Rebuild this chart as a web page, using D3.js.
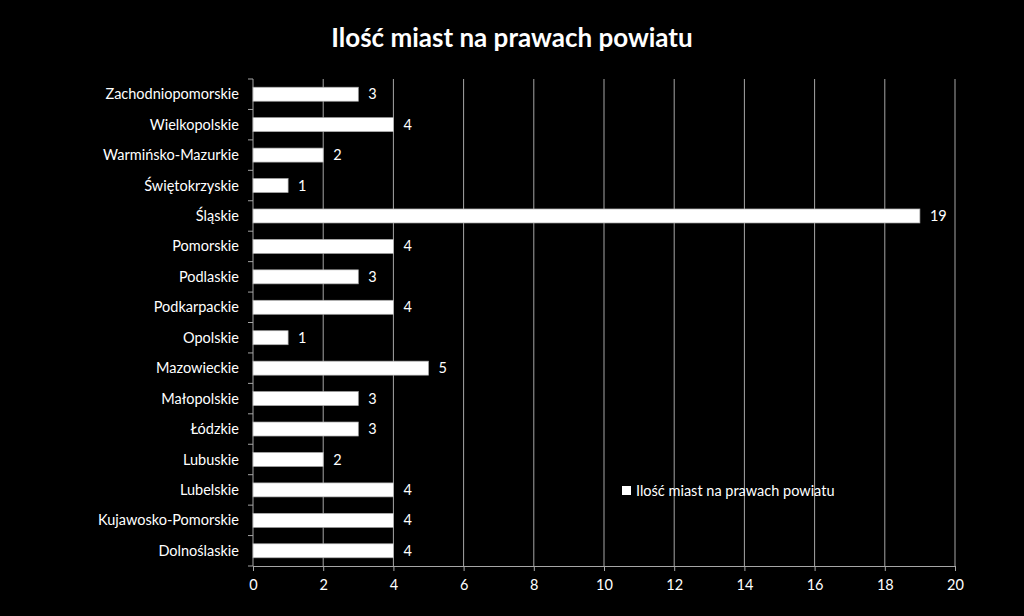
<!DOCTYPE html>
<html><head><meta charset="utf-8">
<script src="https://cdn.jsdelivr.net/npm/d3@7"></script>
<style>html,body{margin:0;padding:0;background:#000;}svg{display:block;}</style>
</head><body>
<script>
const categories = ["Zachodniopomorskie","Wielkopolskie","Warmińsko-Mazurkie","Świętokrzyskie","Śląskie","Pomorskie","Podlaskie","Podkarpackie","Opolskie","Mazowieckie","Małopolskie","Łódzkie","Lubuskie","Lubelskie","Kujawosko-Pomorskie","Dolnoślaskie"];
const values = [3,4,2,1,19,4,3,4,1,5,3,3,2,4,4,4];
const xTicks = [0,2,4,6,8,10,12,14,16,18,20];
const title = "Ilość miast na prawach powiatu";
const seriesName = "Ilość miast na prawach powiatu";

(function(){
const W=1024,H=616;
const font = "Lato, 'Open Sans', sans-serif";
const fs = "14.5px";
const svg = d3.select("body").append("svg").attr("width",W).attr("height",H).style("background","#000");
const pL=253,pR=955,pT=79,pB=566;
const x = d3.scaleLinear().domain([0,20]).range([pL,pR]);
const y = d3.scaleBand().domain(categories).range([pT,pB]).paddingInner(0.54).paddingOuter(0.27);
const grid="#a6a6a6";

svg.append("text").attr("x",512).attr("y",47).attr("text-anchor","middle").attr("fill","#fff")
  .style("font-family",font).style("font-weight","bold").style("font-size","26px").text(title);

svg.append("g").selectAll("line").data(xTicks.slice(1)).join("line")
  .attr("x1",d=>x(d)).attr("x2",d=>x(d)).attr("y1",pT).attr("y2",pB)
  .attr("stroke",grid).attr("stroke-width",1);

const xa = svg.append("g").attr("transform",`translate(0,${pB})`)
  .call(d3.axisBottom(x).tickValues(xTicks).tickSize(5).tickPadding(9));
xa.select(".domain").attr("stroke",grid);
xa.selectAll(".tick line").attr("stroke",grid);
xa.selectAll("text").attr("fill","#fff").style("font-family",font).style("font-size",fs);

svg.append("line").attr("x1",pL).attr("x2",pL).attr("y1",pT).attr("y2",pB).attr("stroke",grid);
const step = (pB-pT)/categories.length;
svg.append("g").selectAll("line").data(d3.range(categories.length+1)).join("line")
  .attr("x1",pL-5).attr("x2",pL).attr("y1",i=>pT+i*step).attr("y2",i=>pT+i*step).attr("stroke",grid);

svg.append("g").selectAll("text").data(categories).join("text")
  .attr("x",pL-14).attr("y",d=>y(d)+y.bandwidth()/2).attr("dy","0.35em").attr("text-anchor","end")
  .attr("fill","#fff").style("font-family",font).style("font-size",fs).text(d=>d);

svg.append("g").selectAll("rect").data(categories).join("rect")
  .attr("x",x(0)).attr("y",d=>y(d)).attr("width",(d,i)=>x(values[i])-x(0)).attr("height",y.bandwidth())
  .attr("fill","#fff").attr("stroke","#aaa").attr("stroke-width",0.7);

svg.append("g").selectAll("text").data(categories).join("text")
  .attr("x",(d,i)=>x(values[i])+10).attr("y",d=>y(d)+y.bandwidth()/2).attr("dy","0.35em")
  .attr("fill","#fff").style("font-family",font).style("font-size",fs).text((d,i)=>values[i]);

const lg = svg.append("g").attr("transform","translate(622,484)");
lg.append("rect").attr("x",0).attr("y",2).attr("width",9).attr("height",9).attr("fill","#fff");
lg.append("text").attr("x",14).attr("y",6.5).attr("dy","0.35em").attr("fill","#fff")
  .style("font-family",font).style("font-size",fs).text(seriesName);
})();
</script>
</body></html>
